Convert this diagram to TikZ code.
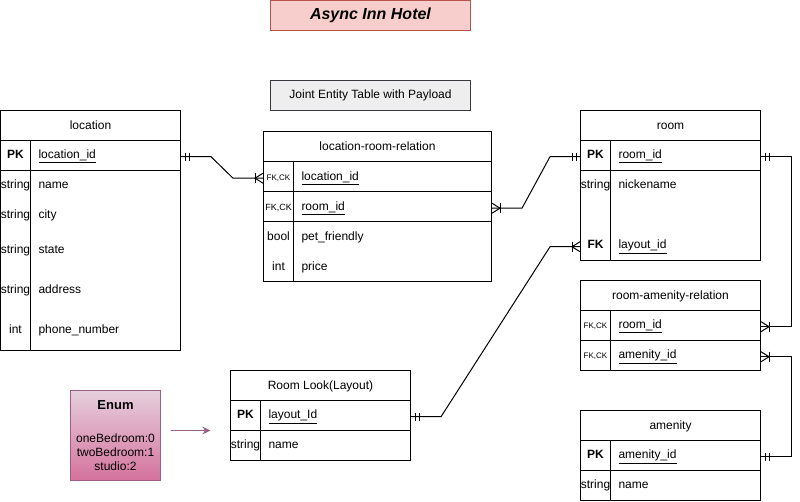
\documentclass[tikz,border=0pt]{standalone}
\usepackage{fontspec}
\setmainfont{Liberation Sans}
\usepackage{tikz}
\usetikzlibrary{calc,arrows.meta}
\definecolor{titlefill}{HTML}{F8CECC}
\definecolor{titleline}{HTML}{B85450}
\definecolor{notefill}{HTML}{EEEEEE}
\definecolor{noteline}{HTML}{36393D}
\definecolor{enumtop}{HTML}{E6D0DE}
\definecolor{enumbot}{HTML}{D5739D}
\definecolor{enumline}{HTML}{996185}
\begin{document}
\begin{tikzpicture}[x=1pt,y=-1pt,line width=1pt]
\tikzstyle{every node}+=[inner sep=0pt,font=\fontsize{12}{14}\selectfont]
\tikzstyle{tbl}=[draw,rectangle]
\tikzstyle{hdr}=[anchor=mid,yshift=-1.5pt]
\tikzstyle{typ}=[anchor=mid,yshift=-1.2pt]
\tikzstyle{fld}=[anchor=mid west,yshift=-1.2pt]
\tikzstyle{fkck}=[anchor=mid,yshift=-1pt,font=\fontsize{8}{9}\selectfont]
\useasboundingbox (0,0) rectangle (800,501);
\node (title) [tbl,draw=titleline,fill=titlefill,minimum width=200,minimum height=30] at (370.5,15.5) {\fontsize{16}{18}\selectfont\bfseries\itshape Async Inn Hotel};
\node (joint) [tbl,draw=noteline,fill=notefill,minimum width=200,minimum height=30] at (370.5,95) {Joint Entity Table with Payload};
\node (loc) [tbl,minimum width=180,minimum height=240] at (90.5,230) {};
\node (locH) [hdr] at (90.5,125) {location};
\draw (0.5,140) -- (180.5,140);
\draw (0.5,170) -- (180.5,170);
\draw (30.5,140) -- (30.5,350);
\node (locT1) [typ] at (15.5,155) {\textbf{PK}};
\node (locN1) [fld] at (38,155) {\underline{location\_id}};
\node (locT2) [typ] at (15.5,185) {string};
\node (locN2) [fld] at (38,185) {name};
\node (locT3) [typ] at (15.5,215) {string};
\node (locN3) [fld] at (38,215) {city};
\node (locT4) [typ] at (15.5,250) {string};
\node (locN4) [fld] at (38,250) {state};
\node (locT5) [typ] at (15.5,290) {string};
\node (locN5) [fld] at (38,290) {address};
\node (locT6) [typ] at (15.5,330) {int};
\node (locN6) [fld] at (38,330) {phone\_number};
\node (lrr) [tbl,minimum width=228,minimum height=150] at (377.5,206.5) {};
\node (lrrH) [hdr] at (377.5,146.5) {location-room-relation};
\draw (263.5,161.5) -- (491.5,161.5);
\draw (263.5,191.5) -- (491.5,191.5);
\draw (263.5,221.5) -- (491.5,221.5);
\draw (293.5,161.5) -- (293.5,281.5);
\node (lrrT1) [fkck] at (278.5,176.5) {FK,CK};
\node (lrrN1) [fld] at (301,176.5) {\underline{location\_id}};
\node (lrrT2) [fkck,font=\fontsize{9}{10}\selectfont] at (278.5,206.5) {FK,CK};
\node (lrrN2) [fld] at (301,206.5) {\underline{room\_id}};
\node (lrrT3) [typ] at (278.5,236.5) {bool};
\node (lrrN3) [fld] at (301,236.5) {pet\_friendly};
\node (lrrT4) [typ] at (278.5,266.5) {int};
\node (lrrN4) [fld] at (301,266.5) {price};
\node (room) [tbl,minimum width=180,minimum height=150] at (670.5,185) {};
\node (roomH) [hdr] at (670.5,125) {room};
\draw (580.5,140) -- (760.5,140);
\draw (580.5,170) -- (760.5,170);
\draw (610.5,140) -- (610.5,260);
\node (roomT1) [typ] at (595.5,155) {\textbf{PK}};
\node (roomN1) [fld] at (618,155) {\underline{room\_id}};
\node (roomT2) [typ] at (595.5,185) {string};
\node (roomN2) [fld] at (618,185) {nickename};
\node (roomT3) [typ] at (595.5,245) {\textbf{FK}};
\node (roomN3) [fld] at (618,245) {\underline{layout\_id}};
\node (rar) [tbl,minimum width=180,minimum height=90] at (670.5,325) {};
\node (rarH) [hdr] at (670.5,295) {room-amenity-relation};
\draw (580.5,310) -- (760.5,310);
\draw (580.5,340) -- (760.5,340);
\draw (610.5,310) -- (610.5,370);
\node (rarT1) [fkck] at (595.5,325) {FK,CK};
\node (rarN1) [fld] at (618,325) {\underline{room\_id}};
\node (rarT2) [fkck] at (595.5,355) {FK,CK};
\node (rarN2) [fld] at (618,355) {\underline{amenity\_id}};
\node (amen) [tbl,minimum width=180,minimum height=90] at (670.5,455) {};
\node (amenH) [hdr] at (670.5,425) {amenity};
\draw (580.5,440) -- (760.5,440);
\draw (580.5,470) -- (760.5,470);
\draw (610.5,440) -- (610.5,500);
\node (amenT1) [typ] at (595.5,455) {\textbf{PK}};
\node (amenN1) [fld] at (618,455) {\underline{amenity\_id}};
\node (amenT2) [typ] at (595.5,485) {string};
\node (amenN2) [fld] at (618,485) {name};
\node (look) [tbl,minimum width=180,minimum height=90] at (320.5,415) {};
\node (lookH) [hdr] at (320.5,385) {Room Look(Layout)};
\draw (230.5,400) -- (410.5,400);
\draw (230.5,430) -- (410.5,430);
\draw (260.5,400) -- (260.5,460);
\node (lookT1) [typ] at (245.5,415) {\textbf{PK}};
\node (lookN1) [fld] at (268,415) {\underline{layout\_Id}};
\node (lookT2) [typ] at (245.5,445) {string};
\node (lookN2) [fld] at (268,445) {name};
\node (enum) [tbl,draw=enumline,top color=enumtop,bottom color=enumbot,minimum width=90,minimum height=90] at (115.5,435) {};
\node (enumH) [hdr,font=\fontsize{13}{15}\selectfont\bfseries] at (115.5,405) {Enum};
\node (enumV) [align=center,yshift=-1.5pt] at (115.5,451) {oneBedroom:0\\twoBedroom:1\\studio:2};
\coordinate (ea) at (170.5,430.5);
\coordinate (eb) at (210.5,430.5);
\draw [enumline,-{Stealth[length=8pt,width=7.5pt,inset=2.5pt]}] (ea) -- (eb);
\coordinate (e1a) at (loc.east |- locN1);
\coordinate (e1b) at (lrr.west |- lrrN1);
\coordinate (e2a) at (lrr.east |- lrrN2);
\coordinate (e2b) at (room.west |- roomN1);
\coordinate (e3a) at (look.east |- lookN1);
\coordinate (e3b) at (room.west |- roomN3);
\coordinate (e4a) at (room.east |- roomN1);
\coordinate (e4b) at (rar.east |- rarN1);
\coordinate (e5a) at (amen.east |- amenN1);
\coordinate (e5b) at (rar.east |- rarN2);
\draw (e1a) -- ++(30,0) -- ($(e1b)+(-30,0)$) -- (e1b);
\draw (e2a) -- ++(30,0) -- ($(e2b)+(-30,0)$) -- (e2b);
\draw (e3a) -- ++(30,0) -- ($(e3b)+(-30,0)$) -- (e3b);
\draw (e4a) -- ++(30,0) |- (e4b);
\draw (e5a) -- ++(30,0) |- (e5b);
\draw ($(e1a)+(4,-4)$) -- ++(0,8);
\draw ($(e1a)+(8,-4)$) -- ++(0,8);
\draw ($(e2b)+(-4,-4)$) -- ++(0,8);
\draw ($(e2b)+(-8,-4)$) -- ++(0,8);
\draw ($(e3a)+(4,-4)$) -- ++(0,8);
\draw ($(e3a)+(8,-4)$) -- ++(0,8);
\draw ($(e4a)+(4,-4)$) -- ++(0,8);
\draw ($(e4a)+(8,-4)$) -- ++(0,8);
\draw ($(e5a)+(4,-4)$) -- ++(0,8);
\draw ($(e5a)+(8,-4)$) -- ++(0,8);
\draw ($(e1b)+(0,-5)$) -- ($(e1b)+(-8,0)$) -- ($(e1b)+(0,5)$);
\draw ($(e1b)+(-8,-5)$) -- ++(0,10);
\draw ($(e2a)+(0,-5)$) -- ($(e2a)+(8,0)$) -- ($(e2a)+(0,5)$);
\draw ($(e2a)+(8,-5)$) -- ++(0,10);
\draw ($(e3b)+(0,-5)$) -- ($(e3b)+(-8,0)$) -- ($(e3b)+(0,5)$);
\draw ($(e3b)+(-8,-5)$) -- ++(0,10);
\draw ($(e4b)+(0,-5)$) -- ($(e4b)+(8,0)$) -- ($(e4b)+(0,5)$);
\draw ($(e4b)+(8,-5)$) -- ++(0,10);
\draw ($(e5b)+(0,-5)$) -- ($(e5b)+(8,0)$) -- ($(e5b)+(0,5)$);
\draw ($(e5b)+(8,-5)$) -- ++(0,10);
\end{tikzpicture}
\end{document}
